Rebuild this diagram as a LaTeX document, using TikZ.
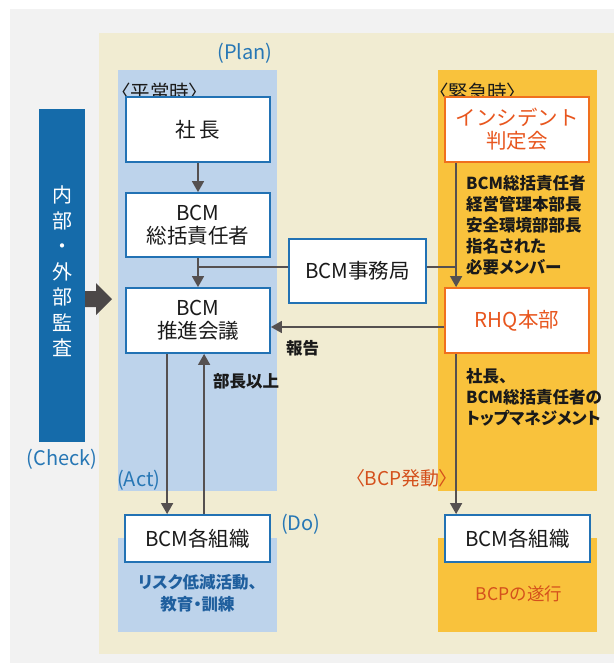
\documentclass[tikz,border=0pt]{standalone}
\usepackage{fontspec}
\setmainfont{Noto Sans CJK JP}
\newfontfamily\pfont{Noto Sans CJK JP}[RawFeature=+palt]
\usetikzlibrary{arrows.meta}
\definecolor{bggray}{HTML}{F2F2F2}
\definecolor{cream}{HTML}{F1ECD2}
\definecolor{paleblue}{HTML}{BDD3EB}
\definecolor{amber}{HTML}{F9C23C}
\definecolor{barblue}{HTML}{156BAA}
\definecolor{boxblue}{HTML}{2272B4}
\definecolor{boxorange}{HTML}{F0701E}
\definecolor{txtorange}{HTML}{E8561E}
\definecolor{bcporange}{HTML}{D4501C}
\definecolor{plantext}{HTML}{2777B5}
\definecolor{darktext}{HTML}{1A1A1A}
\definecolor{connc}{HTML}{555050}
\definecolor{navytext}{HTML}{1F5F9E}
\tikzset{
  boxb/.style={draw=boxblue,line width=1.8pt,fill=white,align=center,inner sep=0pt,
    text=darktext,font=\fontsize{20.5}{23}\selectfont},
  boxo/.style={boxb,draw=boxorange,text=txtorange},
  conn/.style={draw=connc,line width=1.6pt},
  arr/.style={conn,-{Triangle[width=12pt,length=11pt]}},
  sidetext/.style={align=left,inner sep=0pt,anchor=west,text=darktext,
    font=\pfont\fontsize{16.5}{21}\selectfont\bfseries},
  pdca/.style={inner sep=0pt,text=plantext,font=\fontsize{20}{23}\selectfont},
  heading/.style={inner sep=0pt,anchor=west,text=darktext,font=\pfont\fontsize{19.5}{22}\selectfont}
}
\begin{document}
\begin{tikzpicture}[x=1pt,y=-1pt]
\useasboundingbox (0,0) rectangle (614,663);
\fill[white] (0,0) rectangle (614,663);
\fill[bggray] (10,9) rectangle (614,663);
\fill[cream] (99,33) rectangle (614,654);
\fill[paleblue] (118,70) rectangle (277,491);
\fill[paleblue] (118,538) rectangle (277,632);
\fill[amber] (438,70) rectangle (597,491);
\fill[amber] (438,538) rectangle (597,632);
% audit bar
\fill[barblue] (39,109) rectangle (85,442);
\node[inner sep=0pt,text=white,align=center,font=\fontsize{20}{25.5}\selectfont] (audit) at (62,271.5)
  {内\\部\\・\\外\\部\\監\\査};
\fill[connc!90!black] (85,291) -- (96,291) -- (96,283) -- (112,299) -- (96,315) -- (96,307) -- (85,307) -- cycle;
% labels
\node[pdca] (plan) at (245,53) {(Plan)};
\node[pdca] (check) at (62,459) {(Check)};
\node[pdca,anchor=west] (act) at (117,480) {(Act)};
\node[pdca,anchor=west] (do) at (281,524) {(Do)};
\node[heading] (heiji) at (121,92) {〈平常時〉};
\node[heading] (kinkyu) at (439,92) {〈緊急時〉};
% boxes
\node[boxb,minimum width=144pt,minimum height=65pt] (shacho) at (198,129.5) {社\,長};
\node[boxb,minimum width=144pt,minimum height=64pt] (sokatsu) at (198,225) {BCM\\総括責任者};
\node[boxb,minimum width=144pt,minimum height=65pt] (suishin) at (198,320.5) {BCM\\推進会議};
\node[boxb,minimum width=137pt,minimum height=64pt] (jimu) at (357.5,271) {BCM事務局};
\node[boxo,minimum width=144pt,minimum height=65pt] (incident) at (517,129.5) {インシデント\\判定会};
\node[boxo,minimum width=144pt,minimum height=65pt] (rhq) at (517,320.5) {RHQ本部};
\node[boxb,minimum width=145pt,minimum height=47pt] (soshikiL) at (197.5,538.5) {BCM各組織};
\node[boxb,minimum width=145pt,minimum height=47pt] (soshikiR) at (517.5,538.5) {BCM各組織};
% connectors
\draw[arr] (shacho.south) -- (sokatsu.north);
\draw[arr] (sokatsu.south) -- (suishin.north);
\coordinate (j1) at ([yshift=4pt]jimu.west);
\draw[conn] (j1) -- (j1 -| sokatsu.south);
\coordinate (v1) at ([xshift=12pt]incident.south west);
\draw[arr] (v1) -- (v1 |- rhq.north);
\coordinate (j2) at ([yshift=4pt]jimu.east);
\draw[conn] (j2) -- (j2 -| v1);
\coordinate (r1) at ([yshift=-6.5pt]rhq.west);
\draw[arr] (r1) -- (r1 -| suishin.east);
\coordinate (v2) at ([xshift=12pt]rhq.south west);
\draw[arr] (v2) -- (v2 |- soshikiR.north);
\coordinate (d1) at ([xshift=42pt]suishin.south west);
\draw[arr] (d1) -- (d1 |- soshikiL.north);
\coordinate (u1) at ([xshift=79pt]suishin.south west);
\draw[arr] (u1 |- soshikiL.north) -- (u1);
% side texts
\node[sidetext] (members) at (466,225) {BCM総括責任者\\経営管理本部長\\安全環境部部長\\指名された\\必要メンバー};
\node[sidetext] (topm) at (466,397) {社長、\\BCM総括責任者の\\トップマネジメント};
\node[sidetext] (hokoku) at (286,348) {報告};
\node[sidetext] (bucho) at (213,381) {部長以上};
\node[inner sep=0pt,anchor=east,text=bcporange,font=\pfont\fontsize{19}{22}\selectfont] (bcp) at (449,478) {〈BCP発動〉};
\node[inner sep=0pt,align=center,text=navytext,font=\pfont\fontsize{16.5}{22}\selectfont\bfseries] (risk) at (197.5,593) {リスク低減活動、\\教育・訓練};
\node[inner sep=0pt,text=bcporange,font=\fontsize{17.5}{20}\selectfont] (suiko) at (519,594) {BCPの遂行};
\end{tikzpicture}
\end{document}
